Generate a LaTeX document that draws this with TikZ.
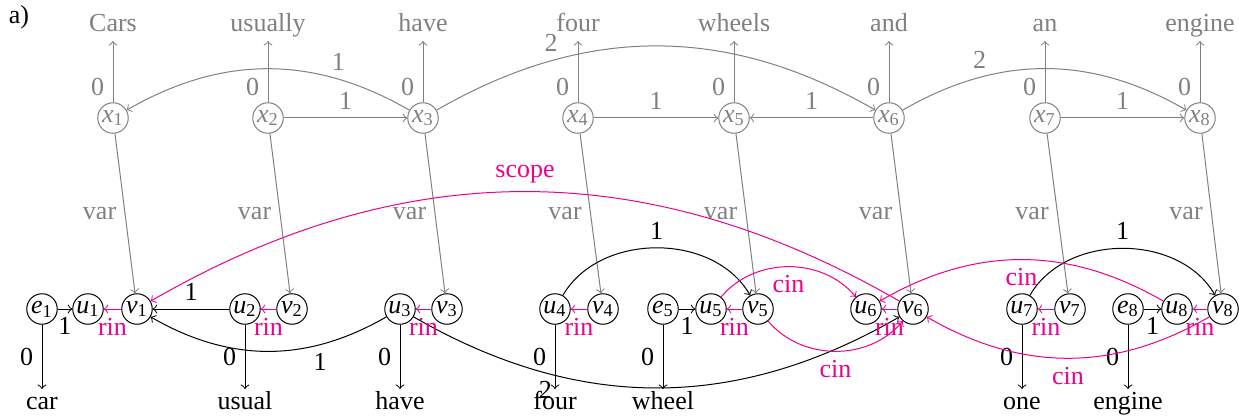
\documentclass[tikz,border=0pt]{standalone}
\usepackage{fontspec}
\setmainfont{Liberation Serif}
\definecolor{gr}{RGB}{128,128,128}
\definecolor{pk}{RGB}{236,0,140}
\newcommand{\nv}[2]{\textit{#1}\textsubscript{#2}}
\begin{document}
\begin{tikzpicture}[x=0.4pt,y=0.4pt,font=\fontsize{10.4}{12}\selectfont,
  vtx/.style={circle,draw,minimum size=12.2pt,inner sep=0pt},
  gvtx/.style={vtx,draw=gr,text=gr},
  word/.style={inner sep=1pt,text height=0.7em,text depth=0.25em},
  garr/.style={->,draw=gr,every node/.style={text=gr}},
  karr/.style={->,draw=black},
  parr/.style={->,draw=pk,every node/.style={text=pk}}]
\useasboundingbox (0,0) rectangle (1239,-419);
\node (lbl) at (19,-17) {a)};
% top row
\foreach \i/\x/\w in {1/113/Cars,2/268/usually,3/423/have,4/578/four,5/734/wheels,6/889/and,7/1045/an,8/1200/engine}{
  \node[gvtx] (x\i) at (\x,-118) {\nv{x}{\i}};
  \node[word,text=gr,anchor=south] (w\i) at (\x,-41) {\w};
  \draw[garr] (x\i) -- node[pos=0.25,left] {0} (w\i);
}
% bottom row
\node[vtx] (e1) at (42,-309) {\nv{e}{1}};
\node[vtx] (u1) at (88,-309) {\nv{u}{1}};
\node[vtx] (v1) at (137,-309) {\nv{v}{1}};
\node[vtx] (u2) at (245,-309) {\nv{u}{2}};
\node[vtx] (v2) at (292,-309) {\nv{v}{2}};
\node[vtx] (u3) at (400,-309) {\nv{u}{3}};
\node[vtx] (v3) at (447,-309) {\nv{v}{3}};
\node[vtx] (u4) at (555,-309) {\nv{u}{4}};
\node[vtx] (v4) at (603,-309) {\nv{v}{4}};
\node[vtx] (e5) at (663,-309) {\nv{e}{5}};
\node[vtx] (u5) at (711,-309) {\nv{u}{5}};
\node[vtx] (v5) at (758,-309) {\nv{v}{5}};
\node[vtx] (u6) at (866,-309) {\nv{u}{6}};
\node[vtx] (v6) at (913,-309) {\nv{v}{6}};
\node[vtx] (u7) at (1022,-309) {\nv{u}{7}};
\node[vtx] (v7) at (1070,-309) {\nv{v}{7}};
\node[vtx] (e8) at (1128,-309) {\nv{e}{8}};
\node[vtx] (u8) at (1177,-309) {\nv{u}{8}};
\node[vtx] (v8) at (1223,-309) {\nv{v}{8}};
% bottom words
\node[word,anchor=north] (b1) at (42,-389) {car};
\node[word,anchor=north] (b2) at (245,-389) {usual};
\node[word,anchor=north] (b3) at (400,-389) {have};
\node[word,anchor=north] (b4) at (555,-389) {four};
\node[word,anchor=north] (b5) at (663,-389) {wheel};
\node[word,anchor=north] (b7) at (1022,-389) {one};
\node[word,anchor=north] (b8) at (1128,-389) {engine};
% top edges
\draw[garr] (x3) to[bend right=30] node[pos=0.25,above] {1} (x1);
\draw[garr] (x2) -- node[above] {1} (x3);
\draw[garr] (x3) to[bend left=30] node[pos=0.26,above] {2} (x6);
\draw[garr] (x4) -- node[above] {1} (x5);
\draw[garr] (x6) -- node[above] {1} (x5);
\draw[garr] (x6) to[bend left=30] node[pos=0.27,above] {2} (x8);
\draw[garr] (x7) -- node[above] {1} (x8);
% var edges
\foreach \i in {1,...,8}{
  \draw[garr] (x\i) -- node[left] {var} (v\i);
}
% black edges
\draw[karr] (e1) -- node[left] {0} (b1);
\draw[karr] (u2) -- node[left] {0} (b2);
\draw[karr] (u3) -- node[left] {0} (b3);
\draw[karr] (u4) -- node[left] {0} (b4);
\draw[karr] (e5) -- node[left] {0} (b5);
\draw[karr] (u7) -- node[left] {0} (b7);
\draw[karr] (e8) -- node[left] {0} (b8);
\draw[karr] (e1) -- node[below] {1} (u1);
\draw[karr] (u2) -- node[above] {1} (v1);
\draw[karr] (u3) to[bend left=30] node[pos=0.28,below] {1} (v1);
\draw[karr] (u3) to[bend right=30] node[pos=0.27,below] {2} (v6);
\draw[karr] (u4) to[out=60,in=120] node[above] {1} (v5);
\draw[karr] (e5) -- node[below] {1} (u5);
\draw[karr] (u7) to[out=60,in=120] node[above] {1} (v8);
\draw[karr] (e8) -- node[below] {1} (u8);
% pink edges
\foreach \i in {1,...,8}{
  \draw[parr] (v\i) -- node[below] {rin} (u\i);
}
\draw[parr] (v6) to[bend right=30] node[above] {scope} (v1);
\draw[parr] (u5) to[out=50,in=130] node[below] {cin} (u6);
\draw[parr] (v5) to[out=-50,in=-130] node[below] {cin} (v6);
\draw[parr] (u8) to[bend right=30] node[below] {cin} (u6);
\draw[parr] (v8) to[bend left=30] node[below] {cin} (v6);
\end{tikzpicture}
\end{document}
